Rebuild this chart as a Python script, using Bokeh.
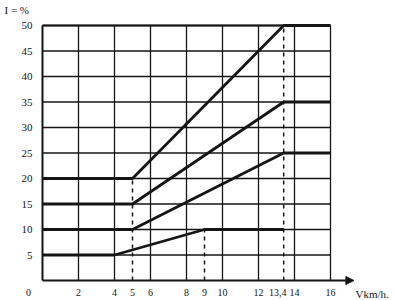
from bokeh.plotting import figure
from bokeh.models import Range1d, Arrow, NormalHead
from bokeh.core.properties import value
from bokeh.embed import file_html
from bokeh.resources import INLINE

# ---- data ----
x_ticks = [2, 4, 5, 6, 8, 9, 10, 12, 13.4, 14, 16]
x_tick_labels = ["2", "4", "5", "6", "8", "9", "10", "12", "13,4", "14", "16"]
y_ticks = [5, 10, 15, 20, 25, 30, 35, 40, 45, 50]
y_tick_labels = ["5", "10", "15", "20", "25", "30", "35", "40", "45", "50"]
x_grid = [2, 4, 6, 8, 10, 12, 14, 16]
y_grid = [5, 10, 15, 20, 25, 30, 35, 40, 45, 50]

s1_x = [0, 4, 9, 13.4]
s1_y = [5, 5, 10, 10]
s2_x = [0, 5, 13.4, 16]
s2_y = [10, 10, 25, 25]
s3_x = [0, 5, 13.4, 16]
s3_y = [15, 15, 35, 35]
s4_x = [0, 5, 13.4, 16]
s4_y = [20, 20, 50, 50]

dash_x = [5, 9, 13.4]
dash_top = [20, 10, 50]

x_max = 16
y_max = 50
y_title = "I = %"
x_title = "Vkm/h."
origin_label = "0"

INK = "#151515"
FONT = value("Liberation Serif")

# frame covers the whole canvas: x 18 px/unit (origin at px 42), y 5.1 px/unit (origin at py 280)
p = figure(width=393, height=300, output_backend="svg", toolbar_location=None,
           title=None, x_range=Range1d(-42 / 18, 351 / 18), y_range=Range1d(-20 / 5.1, 280 / 5.1),
           min_border=0)
p.outline_line_color = None
p.axis.visible = False
p.xgrid.visible = False
p.ygrid.visible = False

# grid
p.segment(x0=x_grid, y0=[0] * len(x_grid), x1=x_grid, y1=[y_max] * len(x_grid),
          line_color=INK, line_width=1.3)
p.segment(x0=[0] * len(y_grid), y0=y_grid, x1=[x_max] * len(y_grid), y1=y_grid,
          line_color=INK, line_width=1.3)
# left and top border
p.segment(x0=[0], y0=[0], x1=[0], y1=[y_max], line_color=INK, line_width=2)
p.segment(x0=[0], y0=[y_max], x1=[x_max], y1=[y_max], line_color=INK, line_width=2)

# dashed verticals
p.segment(x0=dash_x, y0=[0] * len(dash_x), x1=dash_x, y1=dash_top,
          line_color=INK, line_width=1.5, line_dash="4 4")

# series
for xs, ys in ((s1_x, s1_y), (s2_x, s2_y), (s3_x, s3_y), (s4_x, s4_y)):
    p.line(xs, ys, line_color=INK, line_width=2.8)

# x axis line with arrow
p.add_layout(Arrow(end=NormalHead(size=8, fill_color=INK, line_color=INK),
                   x_start=0, y_start=0, x_end=17.3, y_end=0,
                   line_color=INK, line_width=2))

# tick labels
x_lab_y = -12 / 5.1
p.text(x=x_ticks, y=[x_lab_y] * len(x_ticks), text=x_tick_labels, text_font=FONT,
       text_font_size="10px", text_color=INK, text_align="center", text_baseline="middle",
       x_offset=[0] * 8 + [-6] + [0] * 2)
p.text(x=[-10 / 18] * len(y_ticks), y=y_ticks, text=y_tick_labels, text_font=FONT,
       text_font_size="11px", text_color=INK, text_align="right", text_baseline="middle")
p.text(x=[-14 / 18], y=[x_lab_y], text=[origin_label], text_font=FONT,
       text_font_size="10px", text_color=INK, text_align="center", text_baseline="middle")
p.text(x=[313 / 18], y=[-13 / 5.1], text=[x_title], text_font=FONT,
       text_font_size="11px", text_color=INK, text_align="left", text_baseline="middle")
p.text(x=[-38 / 18], y=[271 / 5.1], text=[y_title], text_font=FONT,
       text_font_size="11px", text_color=INK, text_align="left", text_baseline="middle")

open("out.html", "w").write(file_html(p, INLINE))
